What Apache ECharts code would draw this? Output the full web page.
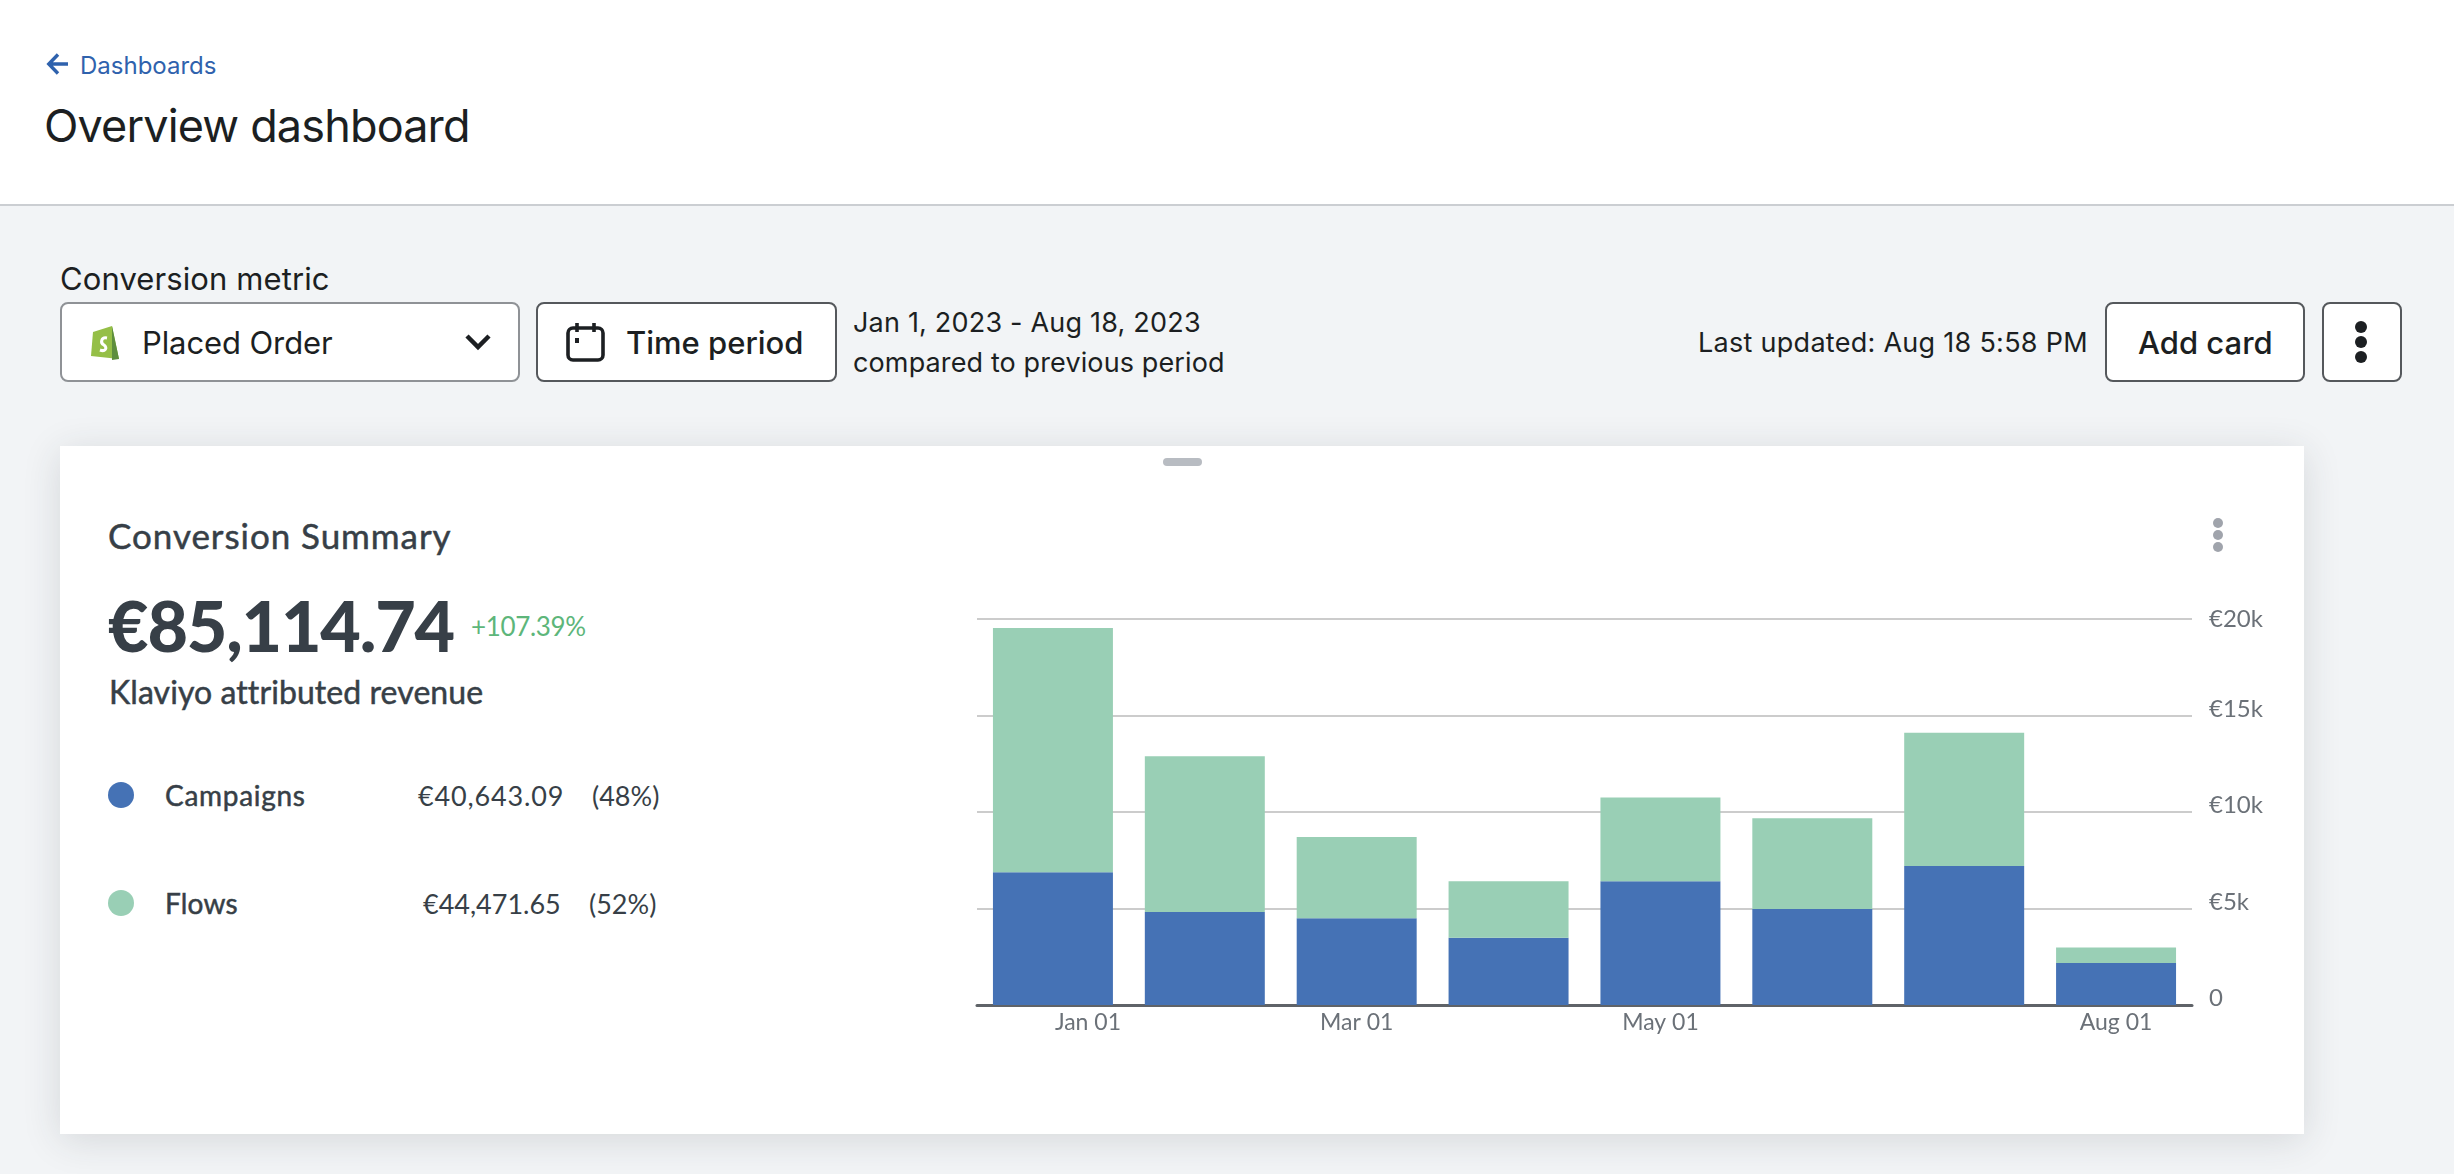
<!DOCTYPE html>
<html lang="en">
<head>
<meta charset="UTF-8">
<title>Overview dashboard</title>
<script src="https://cdnjs.cloudflare.com/ajax/libs/echarts/6.0.0/echarts.min.js"></script>
<style>
  * { margin: 0; padding: 0; box-sizing: border-box; }
  html, body { width: 2454px; height: 1174px; overflow: hidden; }
  body { background: #f2f4f6; font-family: Inter, sans-serif; color: #1c1f22; position: relative; }
  .abs { position: absolute; white-space: nowrap; line-height: 1; }
  .header { position: absolute; left: 0; top: 0; width: 2454px; height: 206px; background: #fff; border-bottom: 2px solid #cbced2; }
  .btn { position: absolute; background: #fff; border: 2px solid #55585c; border-radius: 8px; }
  .card { position: absolute; left: 60px; top: 446px; width: 2244px; height: 688px; background: #fff; box-shadow: 0 6px 36px rgba(40,50,60,.14); }
  .c { font-family: Lato, sans-serif; color: #373f47; }
  .med { -webkit-text-stroke: .5px #373f47; }
  .dot { position: absolute; border-radius: 50%; }
  #chart { position: absolute; left: 959px; top: 590px; width: 1345px; height: 470px; }
</style>
</head>
<body>
<div class="header"></div>
<svg class="abs" style="left:46px;top:52px" width="24" height="24" viewBox="0 0 24 24" fill="none" stroke="#2f62ad" stroke-width="3.4"><path d="M22 12H3M12 2.5 2.8 12l9.2 9.5"/></svg>
<div class="abs" style="left:80px;top:54px;font-size:24px;color:#2f62ad">Dashboards</div>
<div class="abs" style="left:44px;top:103px;font-size:45px;letter-spacing:-.85px">Overview dashboard</div>

<div class="abs" style="left:60px;top:263px;font-size:31px;letter-spacing:.1px">Conversion metric</div>
<div class="btn" style="left:60px;top:302px;width:460px;height:80px;border-color:#8f9296"></div>
<svg class="abs" style="left:88px;top:323px" width="36" height="40" viewBox="0 0 36 40"><path d="M5 9 24 3l7 33-28-3z" fill="#95bf47"/><path d="M24 3l7 33-7 1z" fill="#5e8e3e"/><path d="M19 15c-6-1-7 5-3 7 4 3 1 7-4 5" fill="none" stroke="#fff" stroke-width="3"/></svg>
<div class="abs" style="left:142px;top:327px;font-size:31px;letter-spacing:-.1px">Placed Order</div>
<svg class="abs" style="left:464px;top:332px" width="28" height="20" viewBox="0 0 28 20" fill="none" stroke="#1c1f22" stroke-width="4.5"><path d="M3 4l11 11L25 4"/></svg>

<div class="btn" style="left:536px;top:302px;width:301px;height:80px"></div>
<svg class="abs" style="left:565px;top:321px" width="42" height="42" viewBox="0 0 42 42" fill="none" stroke="#1c1f22" stroke-width="3.6"><rect x="3" y="7" width="35" height="32" rx="5"/><path d="M12 2v9M29 2v9"/><rect x="10" y="17" width="4" height="5" fill="#1c1f22" stroke="none"/></svg>
<div class="abs" style="left:626px;top:327px;font-size:31px;font-weight:500">Time period</div>
<div class="abs" style="left:853px;top:309px;font-size:27px;letter-spacing:.2px">Jan 1, 2023 - Aug 18, 2023</div>
<div class="abs" style="left:853px;top:349px;font-size:27px;letter-spacing:.12px">compared to previous period</div>

<div class="abs" style="left:1698px;top:329px;font-size:27px;letter-spacing:.28px">Last updated: Aug 18 5:58 PM</div>
<div class="btn" style="left:2105px;top:302px;width:200px;height:80px"></div>
<div class="abs" style="left:2138px;top:327px;font-size:31px;font-weight:500">Add card</div>
<div class="btn" style="left:2322px;top:302px;width:80px;height:80px"></div>
<div class="dot" style="left:2355px;top:321px;width:12px;height:12px;background:#1c1f22"></div>
<div class="dot" style="left:2355px;top:336px;width:12px;height:12px;background:#1c1f22"></div>
<div class="dot" style="left:2355px;top:351px;width:12px;height:12px;background:#1c1f22"></div>

<div class="card"></div>
<div class="abs" style="left:1163px;top:458px;width:39px;height:8px;border-radius:4px;background:#b8bcc2"></div>
<div class="dot" style="left:2213px;top:518px;width:10px;height:10px;background:#a0a4ac"></div>
<div class="dot" style="left:2213px;top:530px;width:10px;height:10px;background:#a0a4ac"></div>
<div class="dot" style="left:2213px;top:542px;width:10px;height:10px;background:#a0a4ac"></div>

<div class="abs c med" style="left:108px;top:518px;font-size:35px;letter-spacing:.95px">Conversion Summary</div>
<div class="abs c" style="left:108px;top:590px;font-size:70px;font-weight:900;letter-spacing:-1.2px">€85,114.74</div>
<div class="abs c" style="left:471px;top:613px;font-size:26px;letter-spacing:-.35px;color:#5db67a">+107.39%</div>
<div class="abs c med" style="left:109px;top:676px;font-size:32px;letter-spacing:.08px">Klaviyo attributed revenue</div>

<div class="dot" style="left:108px;top:782px;width:26px;height:26px;background:#4572b5"></div>
<div class="abs c med" style="left:165px;top:781px;font-size:28px;letter-spacing:.7px">Campaigns</div>
<div class="abs c" style="left:418px;top:782px;font-size:27px;letter-spacing:.85px">€40,643.09</div>
<div class="abs c" style="left:592px;top:782px;font-size:27px">(48%)</div>
<div class="dot" style="left:108px;top:890px;width:26px;height:26px;background:#99cfb5"></div>
<div class="abs c med" style="left:165px;top:889px;font-size:28px;letter-spacing:.2px">Flows</div>
<div class="abs c" style="left:423px;top:890px;font-size:27px">€44,471.65</div>
<div class="abs c" style="left:589px;top:890px;font-size:27px">(52%)</div>

<div id="chart"></div>

<script>
  const months = ['Jan 01', 'Feb 01', 'Mar 01', 'Apr 01', 'May 01', 'Jun 01', 'Jul 01', 'Aug 01'];
  const shownMonths = ['Jan 01', 'Mar 01', 'May 01', 'Aug 01'];
  const campaigns = [6880, 4815, 4490, 3490, 6410, 4970, 7200, 2180];
  const flows = [12660, 8075, 4210, 2920, 4340, 4700, 6900, 800];
  const yTicks = { 0: '0', 5000: '€5k', 10000: '€10k', 15000: '€15k', 20000: '€20k' };

  const chart = echarts.init(document.getElementById('chart'));
  chart.setOption({
    animation: false,
    grid: { left: 18, right: 112, top: 29, bottom: 55 },
    xAxis: {
      type: 'category',
      data: months,
      axisTick: { show: false },
      axisLine: { lineStyle: { color: '#5f6368', width: 3 } },
      axisLabel: {
        interval: (i, name) => shownMonths.includes(name),
        margin: 6,
        fontFamily: 'Lato',
        fontSize: 23,
        color: '#6b7178',
        // the first label sits off-centre in the original
        formatter: (name) => name === months[0] ? '{first|' + name + '}' : name,
        rich: { first: { padding: [0, 0, 0, 70], fontFamily: 'Lato', fontSize: 23, color: '#6b7178' } }
      }
    },
    yAxis: {
      type: 'value',
      position: 'right',
      min: 0,
      max: 20000,
      interval: 5000,
      axisLine: { show: false },
      axisTick: { show: false },
      splitLine: { lineStyle: { color: '#cccccc', width: 2 } },
      axisLabel: {
        margin: 17,
        fontFamily: 'Lato',
        fontSize: 24,
        lineHeight: 13,
        color: '#6b7178',
        verticalAlign: 'bottom',
        verticalAlignMaxLabel: 'middle',
        formatter: (v) => yTicks[v]
      }
    },
    series: [
      { name: 'Campaigns', type: 'bar', stack: 'total', data: campaigns, barCategoryGap: '21%', itemStyle: { color: '#4572b5' } },
      { name: 'Flows', type: 'bar', stack: 'total', data: flows, itemStyle: { color: '#99cfb5' } }
    ]
  });
</script>
</body>
</html>
